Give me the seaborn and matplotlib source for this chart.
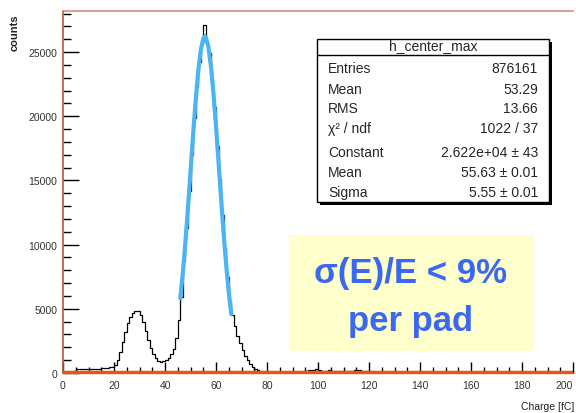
import numpy as np
import pandas as pd
import seaborn as sns
import matplotlib
matplotlib.use("Agg")
import matplotlib.pyplot as plt
from matplotlib.patches import Rectangle
from matplotlib.ticker import MultipleLocator

# ---------------- data ----------------
bin_left = list(range(0, 134))           # 1 fC bins, left edges
counts = [
    0, 0, 0, 0,
    180,
    310, 300, 320, 330, 300, 320, 340, 330, 350, 340, 360, 370, 400, 430, 470,
    600, 1000, 1600, 2400, 3200, 3900, 4400, 4700, 4850, 4800,
    4550, 3950, 3300, 2600, 1950, 1450, 1150, 950, 880, 900,
    1000, 1150, 1450, 1900, 2700, 4100, 5900, 8700, 11300, 14200,
    17000, 19900, 22300, 24200, 25600, 27100, 25800, 24900, 22800, 20700,
    17700, 15100, 12300, 9700, 7500, 5600, 4500, 3700, 2900, 2300,
    1800, 1350, 1000, 700, 480, 320, 200, 140, 100, 80,
    70, 60, 80, 60, 70, 90, 60, 70, 80, 60,
    70, 90, 80, 100, 120, 150, 250, 260, 240, 280,
    200, 180, 190, 170, 200, 180, 170, 190, 180, 160,
    180, 170, 160, 190, 200, 260, 220, 180, 160, 150,
    120, 100, 90, 80, 90, 70, 80, 90, 70, 60,
    60, 50, 40, 30,
]

fit_x = [46, 47, 48, 49, 50, 51, 52, 53, 54, 55, 55.63, 56, 57, 58, 59,
         60, 61, 62, 63, 64, 65, 66]
fit_y = [5820, 7830, 10190, 12850, 15670, 18510, 21170, 23430, 25110, 26050,
         26220, 26160, 25430, 23930, 21800, 19230, 16420, 13570, 10860, 8410,
         6300, 4580]

x_ticks = [0, 20, 40, 60, 80, 100, 120, 140, 160, 180, 200]
y_ticks = [0, 5000, 10000, 15000, 20000, 25000]

stat_title = "h_center_max"
stat_names = ["Entries", "Mean", "RMS", "χ² / ndf", "Constant", "Mean", "Sigma"]
stat_values = ["876161", "53.29", "13.66", "1022 / 37", "2.622e+04 ± 43",
               "55.63 ± 0.01", "5.55 ± 0.01"]
note_lines = ["σ(E)/E < 9%", "per pad"]

# ---------------- figure ----------------
sns.set_style("white")
plt.rcParams["font.family"] = ["Liberation Sans", "DejaVu Sans"]

W, H = 576, 414
fig = plt.figure(figsize=(W / 100, H / 100), dpi=100)
fig.patch.set_facecolor("white")

def fx(px):
    return px / W

def fy(py):
    return 1 - py / H

ax = fig.add_axes([fx(63), fy(374), fx(573) - fx(63), fy(12) - fy(374)])

df = pd.DataFrame({"center": [b + 0.5 for b in bin_left], "counts": counts})
sns.histplot(data=df, x="center", weights="counts", binwidth=1,
             binrange=(0, 200), element="step", fill=False, color="black",
             linewidth=0.9, ax=ax)

fit_df = pd.DataFrame({"x": fit_x, "y": fit_y})
sns.lineplot(data=fit_df, x="x", y="y", color="#4ab4f4", linewidth=3.0,
             ax=ax, zorder=3)

# baseline (orange-red) along zero
ax.plot([0, 200], [0, 0], color="#e8541e", linewidth=3.2, zorder=2,
        solid_capstyle="butt")

ax.set_xlim(0, 200)
ax.set_ylim(0, 28200)
ax.set_xticks(x_ticks)
ax.set_yticks(y_ticks)
ax.xaxis.set_minor_locator(MultipleLocator(5))
ax.yaxis.set_minor_locator(MultipleLocator(1000))
ax.tick_params(axis="y", which="major", direction="in", length=11.5, width=1.0,
               color="black", labelsize=7.5, labelcolor="#333333", pad=4)
ax.tick_params(axis="y", which="minor", direction="in", length=5.8, width=1.0,
               color="black")
ax.tick_params(axis="x", which="major", direction="in", length=8, width=1.0,
               color="black", labelsize=7.5, labelcolor="#333333", pad=5)
ax.tick_params(axis="x", which="minor", direction="in", length=4, width=1.0,
               color="black")
ax.tick_params(left=True, bottom=True, which="both")
ax.set_xlabel("")
ax.set_ylabel("")
# keep the last tick label inside the figure
ax.get_xticklabels()[-1].set_horizontalalignment("right")

ax.spines["left"].set_color("#b8543c")
ax.spines["left"].set_linewidth(1.2)
ax.spines["top"].set_color("#d49080")
ax.spines["top"].set_linewidth(1.2)
ax.spines["right"].set_visible(False)
ax.spines["bottom"].set_color("#e8541e")
ax.spines["bottom"].set_linewidth(1.0)

# axis titles (ROOT style)
fig.text(fx(15), fy(33), "counts", rotation=90, ha="center", va="center",
         fontsize=8, fontweight="bold", color="#222222")
fig.text(fx(574), fy(407), "Charge [fC]", ha="right", va="center",
         fontsize=7.5, color="#222222")

# ---------------- stat box ----------------
bx0, bx1, by0, by1 = 317, 549, 40, 203
fig.patches.append(Rectangle((fx(bx0 + 3), fy(by1 + 3)), fx(bx1) - fx(bx0),
                             fy(by0) - fy(by1), transform=fig.transFigure,
                             facecolor="black", edgecolor="none", zorder=6))
fig.patches.append(Rectangle((fx(bx0), fy(by1)), fx(bx1) - fx(bx0),
                             fy(by0) - fy(by1), transform=fig.transFigure,
                             facecolor="white", edgecolor="black",
                             linewidth=1.0, zorder=7))
fig.lines.append(plt.Line2D([fx(bx0), fx(bx1)], [fy(56), fy(56)],
                            transform=fig.transFigure, color="black",
                            linewidth=1.0, zorder=8))
fig.text(fx((bx0 + bx1) / 2), fy(46), stat_title, ha="center", va="center",
         fontsize=10, zorder=9)
row_y = [69, 90, 109, 129, 153, 173, 193]
for name, val, yy in zip(stat_names, stat_values, row_y):
    fig.text(fx(328), fy(yy), name, ha="left", va="center", fontsize=10,
             zorder=9)
    fig.text(fx(538), fy(yy), val, ha="right", va="center", fontsize=10,
             zorder=9)

# ---------------- yellow note ----------------
fig.patches.append(Rectangle((fx(289), fy(352)), fx(534) - fx(289),
                             fy(236) - fy(352), transform=fig.transFigure,
                             facecolor="#ffffcc", edgecolor="none", zorder=6))
fig.text(fx(411), fy(274), note_lines[0], ha="center", va="center",
         fontsize=25, fontweight="bold", color="#3b68f2", zorder=9)
fig.text(fx(411), fy(322), note_lines[1], ha="center", va="center",
         fontsize=25, fontweight="bold", color="#3b68f2", zorder=9)

fig.savefig("out.png", dpi=100)
